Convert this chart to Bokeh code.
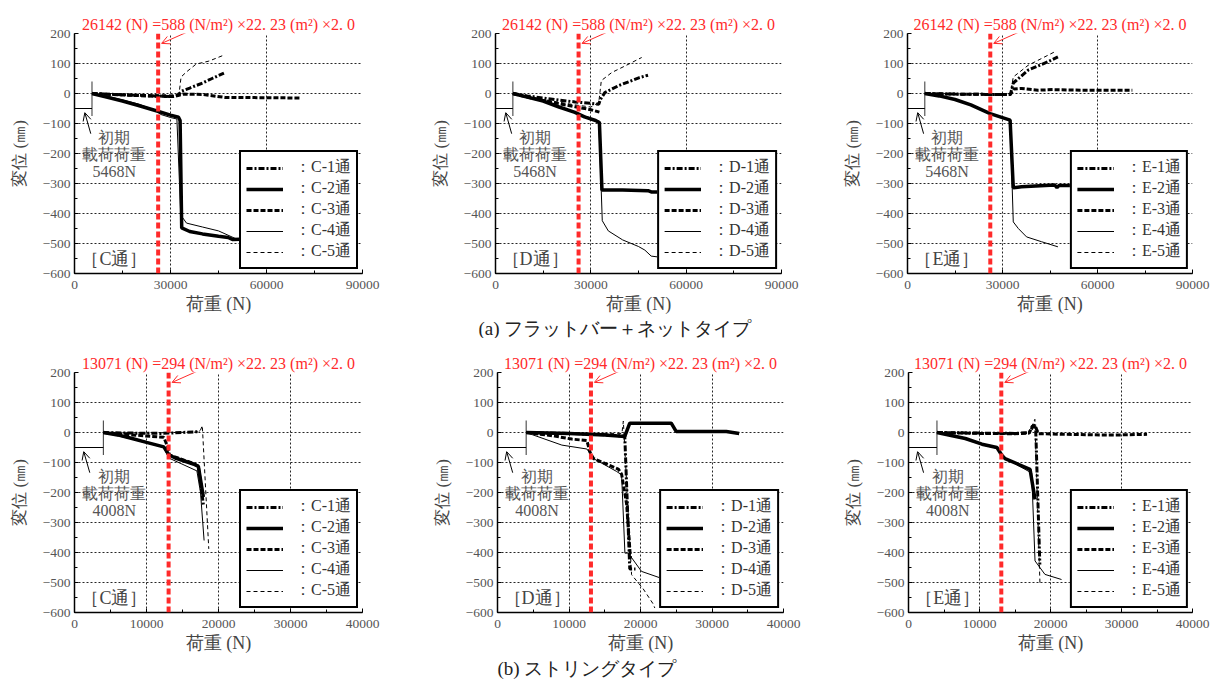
from bokeh.plotting import figure
from bokeh.layouts import row, column
from bokeh.models import Range1d, SingleIntervalTicker, Span, Arrow, OpenHead
from bokeh.core.properties import value
from bokeh.embed import file_html
from bokeh.resources import INLINE

# ---------------- data ----------------
# (a) flat bar + net type, x: load (N), y: displacement (mm)
INIT_LOAD_A = 5468
DESIGN_LOAD_A = 26142
TITLE_A = "26142 (N) =588 (N/m²) ×22. 23 (m²) ×2. 0"

aC1_x = [5468, 10000, 15000, 20000, 25000, 30000, 32500, 33500, 36000, 40000, 43000, 46700]
aC1_y = [0, -2, -4, -6, -8, -10, -5, 8, 18, 35, 50, 68]
aC2_x = [5468, 10000, 15000, 20000, 25000, 30000, 32500, 33000, 33500, 36000, 40000, 45000, 48000, 49500, 51700]
aC2_y = [0, -12, -25, -40, -56, -72, -79, -90, -448, -460, -468, -476, -480, -487, -486]
aC3_x = [5468, 15000, 25000, 31000, 34000, 40000, 47000, 60000, 70600]
aC3_y = [0, -5, -9, -10, -2, -3, -13, -14, -15]
aC4_x = [5468, 10000, 20000, 25000, 27000, 30000, 32000, 33200, 35000, 40000, 45000, 50000, 51500]
aC4_y = [0, -8, -35, -55, -70, -80, -85, -405, -432, -445, -458, -482, -488]
aC5_x = [5468, 20000, 32000, 32800, 33300, 35000, 38000, 42000, 46700]
aC5_y = [0, -3, -5, 10, 55, 72, 98, 108, 128]

aD1_x = [5468, 10000, 15000, 20000, 25000, 30000, 32500, 33000, 34400, 38700, 45300, 48000]
aD1_y = [0, -8, -15, -22, -28, -33, -36, -20, 3, 26, 53, 61]
aD2_x = [5468, 10000, 15000, 20000, 25000, 28000, 31500, 32700, 33500, 40000, 48000, 49000, 52000]
aD2_y = [0, -12, -25, -45, -63, -78, -90, -97, -322, -322, -324, -328, -328]
aD3_x = [5468, 10000, 15000, 20000, 25000, 30000, 32700]
aD3_y = [0, -12, -23, -34, -44, -54, -62]
aD4_x = [5468, 15000, 25000, 30000, 32500, 33200, 33600, 35500, 40000, 45000, 47000, 49000, 52000]
aD4_y = [0, -25, -63, -82, -92, -300, -424, -458, -488, -510, -522, -542, -546]
aD5_x = [5468, 15000, 25000, 30000, 32500, 33300, 36600, 40800, 46000]
aD5_y = [0, -20, -38, -45, -30, 43, 70, 92, 120]

aE1_x = [5468, 15000, 25000, 32500, 33400, 34500, 38100, 44400, 47500]
aE1_y = [0, -2, -3, -3, 35, 45, 78, 106, 122]
aE2_x = [5468, 10000, 15000, 20000, 26100, 32400, 33400, 36000, 46500, 47200, 47800, 52000]
aE2_y = [0, -8, -20, -38, -67, -89, -314, -311, -305, -314, -307, -307]
aE3_x = [5468, 15000, 25000, 32500, 33500, 36000, 41200, 46000, 55000, 71000]
aE3_y = [0, -2, -3, -3, 15, 17, 11, 13, 11, 11]
aE4_x = [5468, 10000, 15000, 20000, 26100, 32400, 33400, 35000, 37600, 42300, 47500]
aE4_y = [0, -8, -20, -38, -67, -89, -428, -450, -478, -494, -511]
aE5_x = [5468, 15000, 25000, 32500, 33400, 38100, 46500]
aE5_y = [0, -2, -3, -3, 55, 94, 139]

# (b) string type
INIT_LOAD_B = 4008
DESIGN_LOAD_B = 13071
TITLE_B = "13071 (N) =294 (N/m²) ×22. 23 (m²) ×2. 0"

bC1_x = [4008, 8000, 12000, 15000, 17400]
bC1_y = [0, -2, -3, 0, 3]
bC2_x = [4008, 6000, 8000, 10000, 12400, 13100, 14000, 16500, 17200, 17900]
bC2_y = [0, -8, -20, -33, -48, -74, -85, -105, -113, -215]
bC3_x = [4008, 8000, 12400, 12900, 13200, 16500, 17200, 17900]
bC3_y = [0, -8, -16, -45, -75, -103, -112, -240]
bC4_x = [4008, 8000, 12400, 13100, 17000, 17500, 18000]
bC4_y = [0, -22, -50, -85, -128, -200, -360]
bC5_x = [4008, 10000, 17400, 17750, 18650]
bC5_y = [0, -2, 2, 23, -388]

bD1_x = [4008, 10000, 15000, 17800, 18500, 19300]
bD1_y = [0, -3, -8, -12, -455, -455]
bD2_x = [4008, 10000, 15000, 17800, 18500, 24300, 25000, 32000, 33800]
bD2_y = [0, -3, -8, -13, 31, 31, 3, 3, -3]
bD3_x = [4008, 8000, 10400, 12500, 12960, 13430, 16900, 17360, 18060, 18600]
bD3_y = [0, -12, -22, -27, -67, -87, -122, -139, -239, -420]
bD4_x = [4008, 9000, 12500, 13430, 16670, 17360, 17820, 18290, 20140, 22920, 24000]
bD4_y = [0, -42, -55, -87, -130, -141, -402, -402, -463, -486, -492]
bD5_x = [4008, 10000, 17400, 17600, 18750, 20370, 21760, 22000]
bD5_y = [0, -2, -3, 38, -474, -521, -571, -585]

bE1_x = [4008, 10000, 15000, 17000, 17600, 17900, 18500]
bE1_y = [0, -2, -3, 0, 22, 25, -440]
bE2_x = [4008, 6000, 8000, 10350, 12450, 13150, 13600, 17120, 17820]
bE2_y = [0, -10, -20, -39, -50, -76, -87, -123, -223]
bE3_x = [4008, 10000, 15000, 17000, 17400, 17800, 18300, 22000, 27000, 30000, 33600]
bE3_y = [0, -3, -4, -2, 20, 24, -4, -6, -8, -8, -6]
bE4_x = [4008, 6000, 8000, 10350, 12450, 13150, 17350, 17820, 19220, 21550]
bE4_y = [0, -11, -22, -41, -53, -80, -135, -428, -473, -490]
bE5_x = [4008, 10000, 17000, 17800, 18520]
bE5_y = [0, -1, 0, 44, -507]

Y_TICKS = [-600, -500, -400, -300, -200, -100, 0, 100, 200]
Y_TICK_LABELS = ["−600", "−500", "−400", "−300", "−200", "−100", "0", "100", "200"]
X_LABEL = "荷重 (N)"
Y_LABEL = "変位 (㎜)"
CAPTION_A = "(a)  フラットバー＋ネットタイプ"
CAPTION_B = "(b)  ストリングタイプ"

# ---------------- styles ----------------
SERIF = "Liberation Serif"
STYLES = [(3, "6 2 2 2"), (3.5, "solid"), (3, "5 2"), (1, "solid"), (1, "4 3")]
RED = "#ff2a2a"
FRAME_H = 240
BOTTOM = 45


def panel(series, letter, xmax, xstep, load, init_load, title, width, left, right, top):
    p = figure(width=width, height=top + FRAME_H + BOTTOM,
               x_range=Range1d(0, xmax), y_range=Range1d(-600, 200),
               output_backend="svg", toolbar_location=None,
               min_border_left=left, min_border_right=right,
               min_border_top=top, min_border_bottom=BOTTOM, title=title)
    p.title.text_color = RED
    p.title.text_font = SERIF
    p.title.text_font_size = "16px"
    p.title.text_font_style = "normal"
    p.title.align = "center"
    p.title.standoff = 2
    p.outline_line_color = None

    xt = SingleIntervalTicker(interval=xstep, num_minor_ticks=2)
    yt = SingleIntervalTicker(interval=100, num_minor_ticks=2)
    p.xaxis.ticker = xt
    p.yaxis.ticker = yt
    p.xgrid.ticker = xt
    p.ygrid.ticker = yt
    p.yaxis.major_label_overrides = dict(zip(Y_TICKS, Y_TICK_LABELS))
    for g in (p.xgrid, p.ygrid):
        g.grid_line_color = "black"
        g.grid_line_dash = "2 2"
        g.grid_line_width = 1
        g.grid_line_alpha = 0.85
    for ax in (p.xaxis, p.yaxis):
        ax.axis_line_color = "black"
        ax.axis_line_width = 1.5
        ax.major_tick_in = 4
        ax.major_tick_out = 0
        ax.minor_tick_in = 3
        ax.minor_tick_out = 0
        ax.major_tick_line_color = "black"
        ax.minor_tick_line_color = "black"
        ax.major_label_text_font = SERIF
        ax.major_label_text_font_size = "13.5px"
        ax.major_label_text_color = "#555555"
        ax.major_label_standoff = 4
        ax.axis_label_text_font = SERIF
        ax.axis_label_text_font_style = "normal"
        ax.axis_label_text_color = "#444444"
    p.xaxis.major_label_standoff = 7
    p.xaxis.axis_label = X_LABEL
    p.xaxis.axis_label_text_font_size = "18px"
    p.xaxis.axis_label_standoff = 2
    p.yaxis.axis_label = Y_LABEL
    p.yaxis.axis_label_text_font_size = "17px"
    p.yaxis.axis_label_standoff = 11

    # design load line and its arrow
    p.add_layout(Span(location=load, dimension="height", line_color=RED,
                      line_width=4, line_dash="6 3"))
    p.add_layout(Arrow(end=OpenHead(size=8, line_color=RED, line_width=1),
                       x_start=load + 0.12 * xmax, y_start=213,
                       x_end=load + 0.012 * xmax, y_end=167,
                       line_color=RED, line_width=1))

    # initial load marker
    p.line([init_load, init_load], [-75, 40], line_color="#333333", line_width=1)
    p.line([0, init_load], [-50, -50], line_color="black", line_width=1)
    big = xmax > 50000
    p.add_layout(Arrow(end=OpenHead(size=8, line_color="black", line_width=1),
                       x_start=init_load * (0.93 if big else 0.53), y_start=-134,
                       x_end=init_load * (0.59 if big else 0.32), y_end=-64,
                       line_color="black", line_width=1))
    tx = 0.1385 * xmax
    p.text(x=[tx, tx, tx], y=[-146, -203, -260],
           text=["初期", "載荷荷重", f"{init_load}N"],
           text_font=value(SERIF), text_font_size="16px", text_color="#555555",
           text_align="center", text_baseline="middle")
    p.text(x=[tx], y=[-550], text=[f"［{letter}通］"], text_font=value(SERIF),
           text_font_size="18px", text_color="#444444",
           text_align="center", text_baseline="middle")

    for i, (xs, ys) in enumerate(series):
        w, d = STYLES[i]
        p.line(xs, ys, line_color="black", line_width=w, line_dash=d,
               legend_label=f"：{letter}-{i + 1}通")

    lg = p.legend[0]
    lg.location = "bottom_right"
    lg.margin = 4
    lg.padding = 5
    lg.spacing = 0
    lg.glyph_width = 37
    lg.glyph_height = 16
    lg.label_standoff = 12
    lg.label_text_font = SERIF
    lg.label_text_font_size = "16px"
    lg.label_text_color = "#333333"
    lg.border_line_color = "black"
    lg.border_line_alpha = 1
    lg.border_line_width = 2
    lg.background_fill_alpha = 1
    return p


def caption(text, x_left, width, height, yc):
    c = figure(width=width, height=height, x_range=Range1d(0, width),
               y_range=Range1d(0, height), output_backend="svg",
               toolbar_location=None, min_border=0,
               x_axis_type=None, y_axis_type=None)
    c.grid.visible = False
    c.outline_line_color = None
    c.text(x=[x_left], y=[height - yc], text=[text], text_font=value(SERIF),
           text_font_size="19px", text_color="#222222",
           text_align="left", text_baseline="middle")
    return c


f1 = panel([(aC1_x, aC1_y), (aC2_x, aC2_y), (aC3_x, aC3_y), (aC4_x, aC4_y), (aC5_x, aC5_y)],
           "C", 90000, 30000, DESIGN_LOAD_A, INIT_LOAD_A, TITLE_A, 427, 74, 65, 33)
f2 = panel([(aD1_x, aD1_y), (aD2_x, aD2_y), (aD3_x, aD3_y), (aD4_x, aD4_y), (aD5_x, aD5_y)],
           "D", 90000, 30000, DESIGN_LOAD_A, INIT_LOAD_A, TITLE_A, 412, 66, 58, 33)
f3 = panel([(aE1_x, aE1_y), (aE2_x, aE2_y), (aE3_x, aE3_y), (aE4_x, aE4_y), (aE5_x, aE5_y)],
           "E", 90000, 30000, DESIGN_LOAD_A, INIT_LOAD_A, TITLE_A, 371, 66, 18, 33)
f4 = panel([(bC1_x, bC1_y), (bC2_x, bC2_y), (bC3_x, bC3_y), (bC4_x, bC4_y), (bC5_x, bC5_y)],
           "C", 40000, 10000, DESIGN_LOAD_B, INIT_LOAD_B, TITLE_B, 429, 74, 67, 34)
f5 = panel([(bD1_x, bD1_y), (bD2_x, bD2_y), (bD3_x, bD3_y), (bD4_x, bD4_y), (bD5_x, bD5_y)],
           "D", 40000, 10000, DESIGN_LOAD_B, INIT_LOAD_B, TITLE_B, 411, 66, 57, 34)
f6 = panel([(bE1_x, bE1_y), (bE2_x, bE2_y), (bE3_x, bE3_y), (bE4_x, bE4_y), (bE5_x, bE5_y)],
           "E", 40000, 10000, DESIGN_LOAD_B, INIT_LOAD_B, TITLE_B, 370, 66, 18, 34)

cap1 = caption(CAPTION_A, 478, 1210, 20, 10)
cap2 = caption(CAPTION_B, 497, 1210, 23, 11)

layout = column(row(f1, f2, f3), cap1, row(f4, f5, f6), cap2)
open("out.html", "w").write(file_html(layout, INLINE))
